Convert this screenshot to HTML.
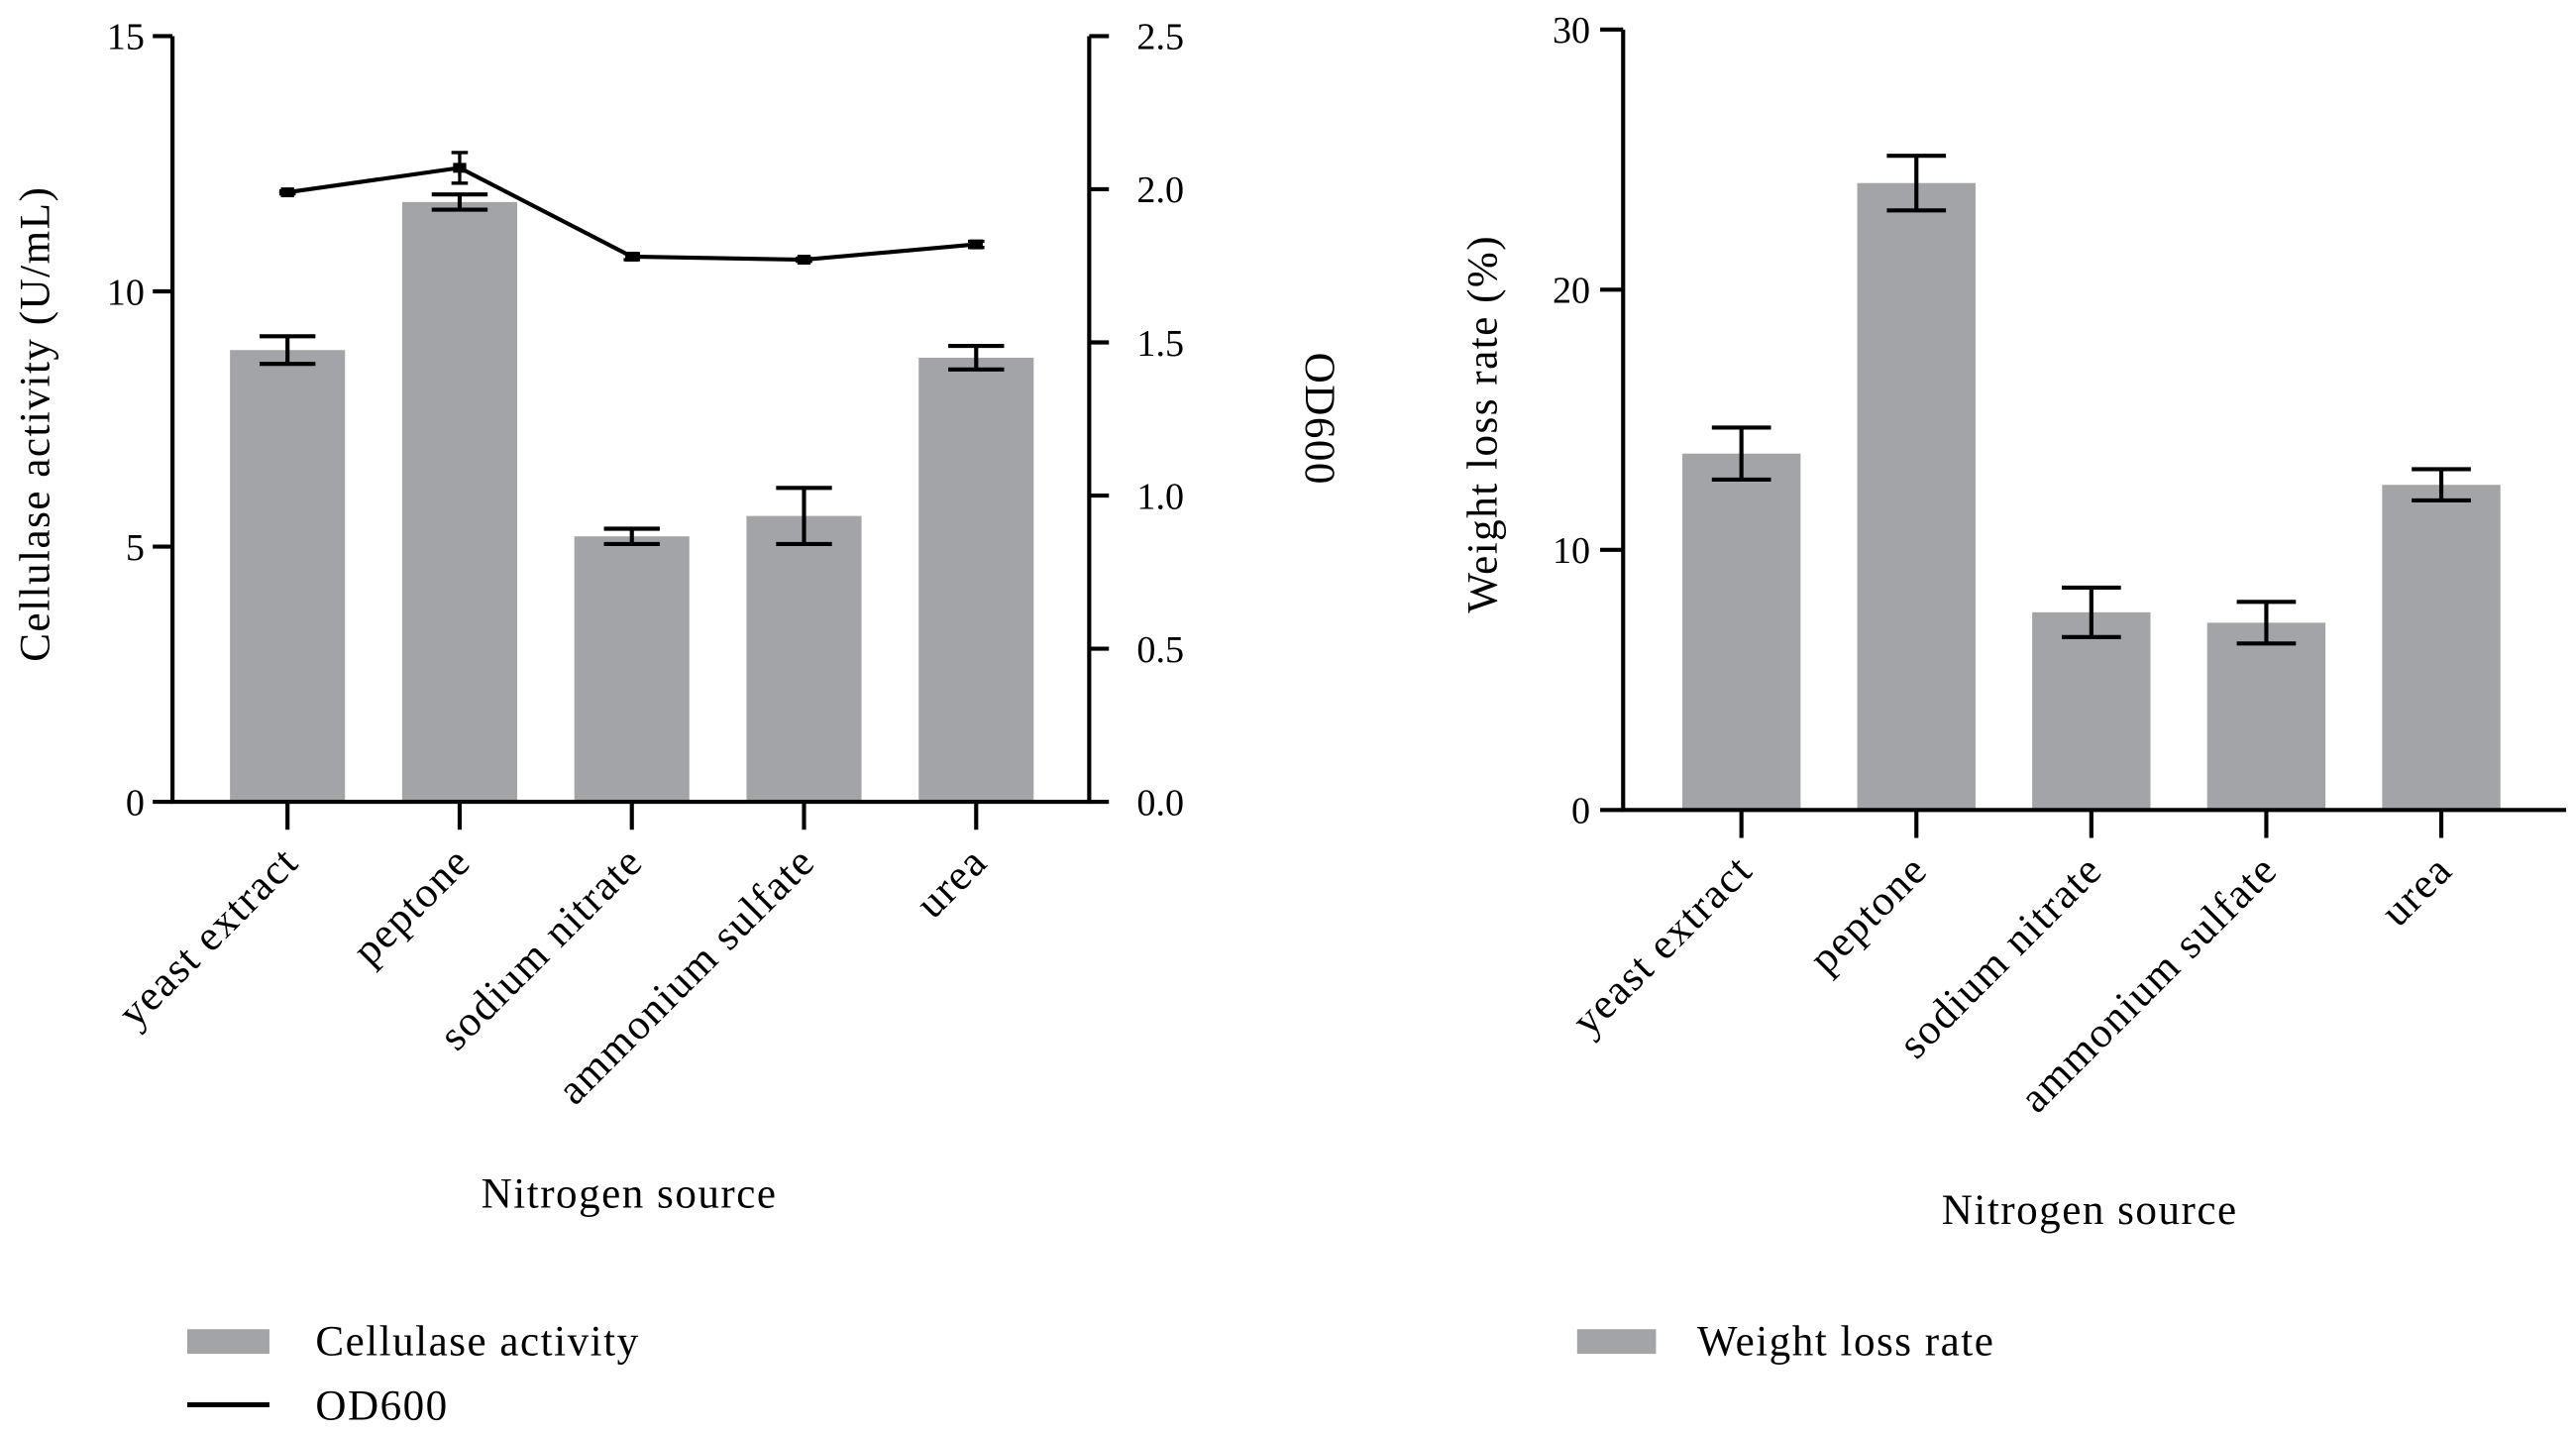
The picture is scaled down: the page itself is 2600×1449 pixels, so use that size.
<!DOCTYPE html>
<html><head><meta charset="utf-8"><style>
html,body{margin:0;padding:0;background:#fff;}
svg{display:block;}
text{font-family:"Liberation Serif",serif;fill:#000;}
.w{letter-spacing:0.9px;}
</style></head><body>
<svg id="s" width="2600" height="1449" viewBox="0 0 1568 874" preserveAspectRatio="none" xmlns="http://www.w3.org/2000/svg">
<g id="left"></g>
<g id="right"></g>
</svg>
<script>
const categories = ["yeast extract","peptone","sodium nitrate","ammonium sulfate","urea"];
const cellulase = [8.85, 11.75, 5.2, 5.6, 8.7];
const cellulaseErr = [0.27, 0.15, 0.15, 0.55, 0.23];
const od600 = [1.99, 2.07, 1.78, 1.77, 1.82];
const od600Err = [0.005, 0.05, 0.01, 0.005, 0.01];
const weightLoss = [13.7, 24.1, 7.6, 7.2, 12.5];
const weightLossErr = [1.0, 1.05, 0.95, 0.8, 0.6];
const leftTicks = ["0","5","10","15"];
const rightTicks = ["0.0","0.5","1.0","1.5","2.0","2.5"];
const wlTicks = ["0","10","20","30"];

const NS = "http://www.w3.org/2000/svg";
function mk(parent, tag, attrs, txt){
  const e = document.createElementNS(NS, tag);
  for (const k in attrs) e.setAttribute(k, attrs[k]);
  if (txt !== undefined) e.textContent = txt;
  parent.appendChild(e);
  return e;
}
function lin(d0,d1,r0,r1){ return v => r0 + (v-d0)/(d1-d0)*(r1-r0); }

// ---- Left chart ----
(function(){
  const g = document.getElementById('left');
  const x0 = 105, x1 = 663, top = 22, bot = 488;
  const y = lin(0,15,bot,top), y2 = lin(0,2.5,bot,top);
  const xc = i => 175 + i*104.8;
  const bw = 70;
  categories.forEach((c,i)=>{
    const b = mk(g,'rect',{x:xc(i)-bw/2,y:y(cellulase[i]),width:bw,height:bot-y(cellulase[i]),fill:'#a3a4a8'});
    
    
    const hi=y(cellulase[i]+cellulaseErr[i]), lo=y(cellulase[i]-cellulaseErr[i]);
    const eb = mk(g,'path',{d:`M${xc(i)-17},${hi}H${xc(i)+17}M${xc(i)},${hi}V${lo}M${xc(i)-17},${lo}H${xc(i)+17}`,stroke:'#000','stroke-width':2.5,fill:'none'});
    
    
  });
  const pts = od600.map((v,i)=>`${xc(i)},${y2(v)}`).join(' ');
  const ln = mk(g,'polyline',{points:pts,fill:'none',stroke:'#000','stroke-width':2.5});
  
  
  od600.forEach((v,i)=>{
    const hi=y2(v+od600Err[i]), lo=y2(v-od600Err[i]);
    const e = mk(g,'path',{d:`M${xc(i)-5},${hi}H${xc(i)+5}M${xc(i)},${hi}V${lo}M${xc(i)-5},${lo}H${xc(i)+5}`,stroke:'#000','stroke-width':2,fill:'none'});
    
    
    const m = mk(g,'rect',{x:xc(i)-4,y:y2(v)-3,width:8,height:6,fill:'#000'});
    
    
  });
  const ax = mk(g,'path',{d:`M${x0},${top}V${bot}H${x1}V${top}`,stroke:'#000','stroke-width':2.5,fill:'none'});
  
  
  leftTicks.forEach(t=>{
    const yy=y(+t);
    mk(g,'line',{x1:x0-12,x2:x0,y1:yy,y2:yy,stroke:'#000','stroke-width':2.5});
    const tx = mk(g,'text',{x:x0-17,y:yy+8,'text-anchor':'end','font-size':23},t);
    
    
  });
  rightTicks.forEach(t=>{
    const yy=y2(+t);
    mk(g,'line',{x1:x1,x2:x1+12,y1:yy,y2:yy,stroke:'#000','stroke-width':2.5});
    const tx = mk(g,'text',{x:x1+29,y:yy+8,'font-size':23},t);
    
    
  });
  categories.forEach((c,i)=>{
    mk(g,'line',{x1:xc(i),x2:xc(i),y1:bot,y2:bot+17,stroke:'#000','stroke-width':2.5});
    const tx = mk(g,'text',{x:0,y:0,'text-anchor':'end','font-size':26,'class':'w',transform:`translate(${xc(i)+8},${bot+38}) rotate(-45)`},c);
    
    
  });
  const yt = mk(g,'text',{x:0,y:0,'text-anchor':'middle','font-size':26,'class':'w',transform:`translate(30,258) rotate(-90)`},'Cellulase activity (U/mL)');
  
  
  const y2t = mk(g,'text',{x:0,y:0,'text-anchor':'middle','font-size':26,'class':'w',transform:`translate(795,255) rotate(90)`},'OD600');
  
  
  const xt = mk(g,'text',{x:383,y:735,'text-anchor':'middle','font-size':26,'class':'w'},'Nitrogen source');
  
  
  const l1 = mk(g,'rect',{x:114,y:809,width:50,height:15,fill:'#a3a4a8'});
  
  
  const l1t = mk(g,'text',{x:192,y:825,'font-size':26,'class':'w'},'Cellulase activity');
  
  
  const l2 = mk(g,'line',{x1:114,x2:164,y1:855,y2:855,stroke:'#000','stroke-width':3});
  
  
  const l2t = mk(g,'text',{x:192,y:864,'font-size':26,'class':'w'},'OD600');
  
  
})();

// ---- Right chart ----
(function(){
  const g = document.getElementById('right');
  const x0 = 988, x1 = 1562, top = 18, bot = 493;
  const y = lin(0,30,bot,top);
  const xc = i => 1060 + i*106.5;
  const bw = 72;
  categories.forEach((c,i)=>{
    const b = mk(g,'rect',{x:xc(i)-bw/2,y:y(weightLoss[i]),width:bw,height:bot-y(weightLoss[i]),fill:'#a3a4a8'});
    
    
    const hi=y(weightLoss[i]+weightLossErr[i]), lo=y(weightLoss[i]-weightLossErr[i]);
    const eb = mk(g,'path',{d:`M${xc(i)-18},${hi}H${xc(i)+18}M${xc(i)},${hi}V${lo}M${xc(i)-18},${lo}H${xc(i)+18}`,stroke:'#000','stroke-width':2.5,fill:'none'});
    
    
  });
  const ax = mk(g,'path',{d:`M${x0},${top}V${bot}H${x1}`,stroke:'#000','stroke-width':2.5,fill:'none'});
  
  
  wlTicks.forEach(t=>{
    const yy=y(+t);
    mk(g,'line',{x1:x0-14,x2:x0,y1:yy,y2:yy,stroke:'#000','stroke-width':2.5});
    const tx = mk(g,'text',{x:x0-20,y:yy+8,'text-anchor':'end','font-size':23},t);
    
    
  });
  categories.forEach((c,i)=>{
    mk(g,'line',{x1:xc(i),x2:xc(i),y1:bot,y2:bot+17,stroke:'#000','stroke-width':2.5});
    const tx = mk(g,'text',{x:0,y:0,'text-anchor':'end','font-size':26,'class':'w',transform:`translate(${xc(i)+8},${bot+38}) rotate(-45)`},c);
    
    
  });
  const yt = mk(g,'text',{x:0,y:0,'text-anchor':'middle','font-size':26,'class':'w',transform:`translate(911,258) rotate(-90)`},'Weight loss rate (%)');
  
  
  const xt = mk(g,'text',{x:1272,y:745,'text-anchor':'middle','font-size':26,'class':'w'},'Nitrogen source');
  
  
  const l1 = mk(g,'rect',{x:960,y:809,width:48,height:15,fill:'#a3a4a8'});
  
  
  const l1t = mk(g,'text',{x:1033,y:825,'font-size':26,'class':'w'},'Weight loss rate');
  
  
})();
</script>
</body></html>
